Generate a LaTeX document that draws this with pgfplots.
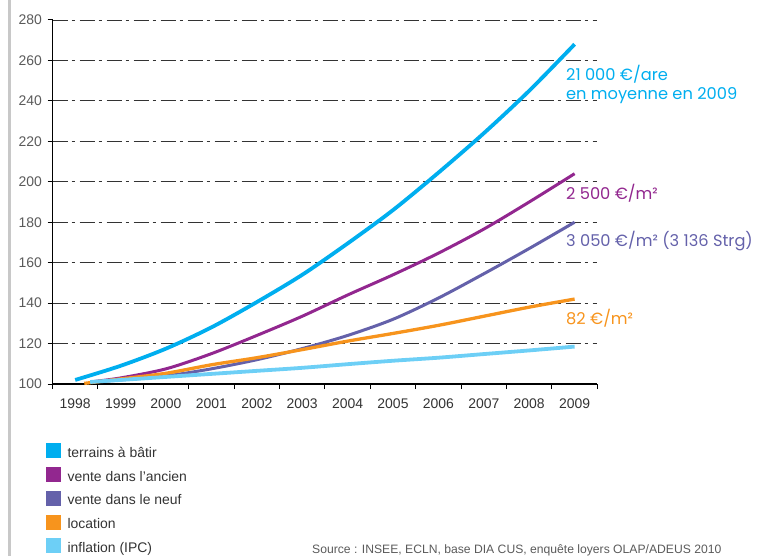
\documentclass[border=0pt]{standalone}
\usepackage{pgfplots}
\pgfplotsset{compat=1.18}
\usepackage{fontspec}
\setmainfont{Liberation Sans}
\newfontfamily\annfont{Poppins}

\definecolor{cTer}{HTML}{00AEEF}
\definecolor{cAnc}{HTML}{92278F}
\definecolor{cNeu}{HTML}{6461AA}
\definecolor{cLoc}{HTML}{F7941D}
\definecolor{cInf}{HTML}{6DCFF6}
\definecolor{barGray}{HTML}{C8C8C8}
\definecolor{tickGray}{HTML}{5A5A5A}
\definecolor{txtDark}{HTML}{333333}

\begin{document}
\begin{tikzpicture}
\path[use as bounding box] (0bp,0bp) rectangle (763bp,556bp);
\draw[barGray, line width=2.5bp] (9.5bp,0bp) -- (9.5bp,556bp);
\begin{axis}[
  at={(52.5bp,172bp)}, anchor=south west,
  scale only axis, width=544.8bp, height=364bp,
  xmin=1997.5, xmax=2009.5, ymin=100, ymax=280,
  axis x line=bottom, axis y line=left,
  axis line style={-, line width=1.2bp, black},
  xtick={1997.5,1998.5,...,2009.5},
  x tick label as interval,
  xticklabels={1998,1999,2000,2001,2002,2003,2004,2005,2006,2007,2008,2009},
  ytick={100,120,...,280},
  /pgf/number format/assume math mode=true,
  tick align=outside, major tick length=5bp,
  tick style={black, line width=1bp},
  xticklabel style={font=\fontsize{14}{16}\selectfont, text=txtDark, yshift=-6bp},
  yticklabel style={font=\fontsize{14}{16}\selectfont, text=tickGray, xshift=-2bp},
  ymajorgrids,
  grid style={txtDark, line width=0.9bp, dash pattern=on 15bp off 4bp on 3bp off 5bp},
  clip=false,
  legend cell align=left,
  legend style={at={(axis description cs:-0.0125,-0.161)}, anchor=north west,
    draw=none, fill=none, inner sep=0pt, row sep=8.1bp,
    font=\fontsize{14}{16}\selectfont, text=txtDark,
    nodes={inner sep=0pt},
    /tikz/every odd column/.append style={column sep=6.7bp}},
  legend image code/.code={\fill[#1, draw=none] (0bp,-5bp) rectangle (15bp,10bp);},
]
\addplot[cTer, line width=3.8bp, smooth] coordinates {
  (1998,102) (1999,109) (2000,117.5) (2001,128) (2002,140.5) (2003,154)
  (2004,169.5) (2005,186) (2006,204.5) (2007,224) (2008,245) (2009,268)};
\addlegendentry{terrains à bâtir}
\addplot[cAnc, line width=3bp, smooth] coordinates {
  (1998.33,101) (1999,103) (2000,107.5) (2001,115) (2002,124) (2003,133.5)
  (2004,144) (2005,154) (2006,164.7) (2007,176.6) (2008,190) (2009,204)};
\addlegendentry{vente dans l'ancien}
\addplot[cNeu, line width=3bp, smooth] coordinates {
  (1998.33,101) (1999,102) (2000,104) (2001,107.5) (2002,112) (2003,117.5)
  (2004,124) (2005,132) (2006,142.5) (2007,154.5) (2008,167) (2009,180)};
\addlegendentry{vente dans le neuf}
\addplot[cLoc, line width=3.3bp, smooth] coordinates {
  (1998.2,100.3) (1999,102.5) (2000,105.3) (2001,109.5) (2002,113) (2003,117)
  (2004,121.2) (2005,125) (2006,129) (2007,133.5) (2008,138) (2009,142)};
\addlegendentry{location}
\addplot[cInf, line width=3.8bp, smooth] coordinates {
  (1998.33,101) (1999,102) (2000,103.5) (2001,105) (2002,106.5) (2003,108)
  (2004,109.8) (2005,111.5) (2006,113) (2007,114.8) (2008,116.6) (2009,118.5)};
\addlegendentry{inflation (IPC)}

\begin{scope}[every node/.style={anchor=west, inner sep=0pt, font=\annfont\fontsize{16.3}{19}\selectfont}]
\node[align=left, text=cTer] at (axis cs:2008.81,248.3) {21 000 €/are\\en moyenne en 2009};
\node[text=cAnc] at (axis cs:2008.81,194.5) {2 500 €/m²};
\node[text=cNeu] at (axis cs:2008.81,170.7) {3 050 €/m² (3 136 Strg)};
\node[text=cLoc] at (axis cs:2008.81,132.6) {82 €/m²};
\end{scope}
\end{axis}
\node[anchor=base west, inner sep=0pt, text=tickGray, font=\fontsize{12.2}{14}\selectfont]
  at (312bp,3bp) {Source : INSEE, ECLN, base DIA CUS, enquête loyers OLAP/ADEUS 2010};
\end{tikzpicture}
\end{document}
